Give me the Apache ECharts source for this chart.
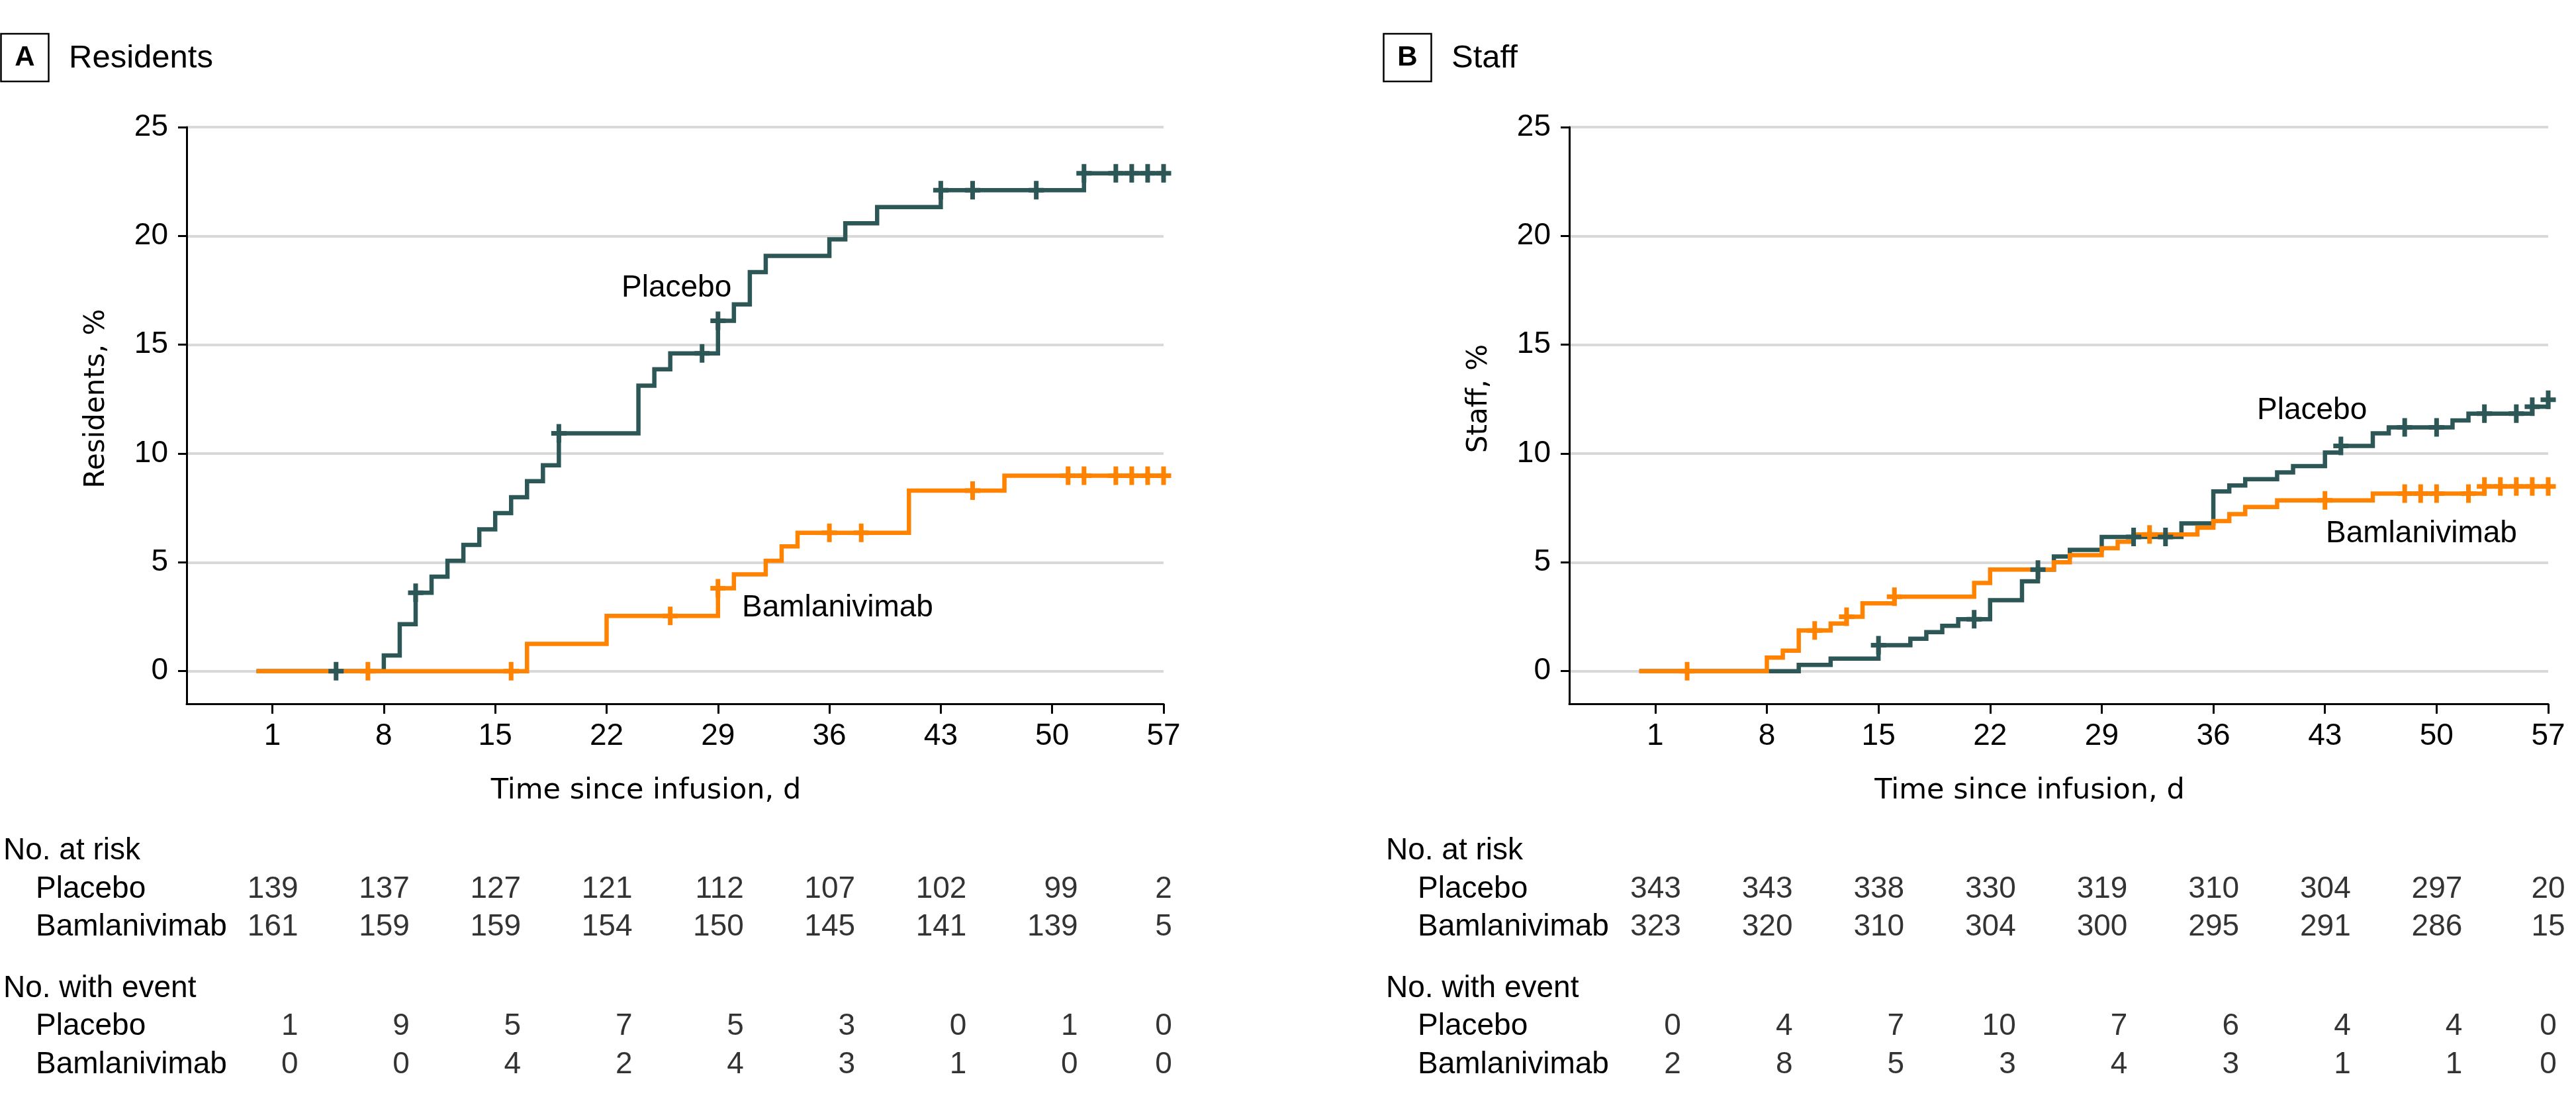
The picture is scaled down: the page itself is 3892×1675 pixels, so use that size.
<!DOCTYPE html>
<html>
<head>
<meta charset="utf-8">
<script src="https://cdn.jsdelivr.net/npm/echarts@6/dist/echarts.min.js"></script>
<style>
html,body{margin:0;padding:0;background:#ffffff;}
#chart{width:3892px;height:1675px;}
</style>
</head>
<body>
<div id="chart"></div>
<script>
// ---------------- data ----------------
const dayTicks = [1, 8, 15, 22, 29, 36, 43, 50, 57];
const pctTicks = [0, 5, 10, 15, 20, 25];
const groups = ['Placebo', 'Bamlanivimab'];

// Panel A – Residents: cumulative incidence step points [day, %]
const resPlaceboSteps = [[0,0],[8,0.72],[9,2.16],[10,3.6],[11,4.34],[12,5.07],[13,5.8],[14,6.52],[15,7.26],[16,7.99],[17,8.73],[18,9.46],[19,10.93],[24,13.12],[25,13.87],[26,14.6],[29,16.1],[30,16.85],[31,18.34],[32,19.08],[36,19.84],[37,20.58],[39,21.33],[43,22.1],[52,22.88],[57,22.88]];
const resPlaceboCensor = [5,10,19,28,29,43,45,49,52,54,55,56,57];
const resBamSteps = [[0,0],[17,1.25],[22,2.54],[29,3.81],[30,4.45],[32,5.07],[33,5.73],[34,6.36],[41,8.3],[47,8.98],[57,8.98]];
const resBamCensor = [7,16,26,29,36,38,45,51,52,54,55,56,57];

// Panel B – Staff
const staffPlaceboSteps = [[0,0],[10,0.29],[12,0.58],[15,1.19],[17,1.49],[18,1.79],[19,2.08],[20,2.39],[22,3.26],[24,4.13],[25,4.67],[26,5.27],[27,5.57],[29,6.17],[34,6.79],[36,8.26],[37,8.53],[38,8.82],[40,9.13],[41,9.42],[43,10.05],[44,10.35],[46,10.93],[47,11.2],[51,11.52],[52,11.83],[56,12.15],[57,12.47]];
const staffPlaceboCensor = [15,21,25,31,33,44,48,50,53,55,56,57];
const staffBamSteps = [[0,0],[8,0.62],[9,0.94],[10,1.87],[12,2.19],[13,2.5],[14,3.12],[16,3.42],[21,4.05],[22,4.67],[26,5.0],[27,5.33],[29,5.65],[30,5.95],[31,6.28],[35,6.59],[36,6.9],[37,7.22],[38,7.54],[40,7.85],[46,8.16],[53,8.49],[57,8.49]];
const staffBamCensor = [3,11,13,16,32,43,48,49,50,52,53,54,55,56,57];

// Risk tables
const resAtRiskPlacebo = [139,137,127,121,112,107,102,99,2];
const resAtRiskBam     = [161,159,159,154,150,145,141,139,5];
const resEventsPlacebo = [1,9,5,7,5,3,0,1,0];
const resEventsBam     = [0,0,4,2,4,3,1,0,0];
const staffAtRiskPlacebo = [343,343,338,330,319,310,304,297,20];
const staffAtRiskBam     = [323,320,310,304,300,295,291,286,15];
const staffEventsPlacebo = [0,4,7,10,7,6,4,4,0];
const staffEventsBam     = [2,8,5,3,4,3,1,1,0];

// ---------------- layout / style ----------------
const W = 3892, H = 1675;
const FONT = 'Liberation Sans';
const TFONT = 'DejaVu Sans';
const C_PLA = '#2c5756';
const C_BAM = '#ff8200';
const X_MIN = -4.39, X_MAX = 57;
const PLOT_TOP = 192, PLOT_BOTTOM = 1063;
const PLUS = 'path://M8,0 L15,0 L15,10.5 L23,10.5 L23,17.5 L15,17.5 L15,28 L8,28 L8,17.5 L0,17.5 L0,10.5 L8,10.5 Z';

const panels = [
  { letter:'A', title:'Residents', yTitle:'Residents, %', left:282, rightEdge:1758, rowLabelX:54,
    steps:[resPlaceboSteps, resBamSteps], censor:[resPlaceboCensor, resBamCensor],
    atRisk:[resAtRiskPlacebo, resAtRiskBam], events:[resEventsPlacebo, resEventsBam],
    lblPla:[939,435], lblBam:[1121,918] },
  { letter:'B', title:'Staff', yTitle:'Staff, %', left:2371, rightEdge:3850, rowLabelX:2142,
    steps:[staffPlaceboSteps, staffBamSteps], censor:[staffPlaceboCensor, staffBamCensor],
    atRisk:[staffAtRiskPlacebo, staffAtRiskBam], events:[staffEventsPlacebo, staffEventsBam],
    lblPla:[3410,620], lblBam:[3514,806] }
];

function stepValue(steps, t) {
  let v = 0;
  for (const s of steps) { if (s[0] <= t) v = s[1]; else break; }
  return v;
}

const grid = [], xAxis = [], yAxis = [], series = [], graphic = [];
const blackLine = {color:'#000', width:3};

panels.forEach((p, pi) => {
  const right = W - p.rightEdge;
  const gBase = grid.length;
  grid.push({left:p.left, right:right, top:PLOT_TOP, bottom:H - PLOT_BOTTOM, outerBoundsMode:'none', containLabel:false});
  grid.push({left:p.left, right:right, top:1343, bottom:H - 1400.5, outerBoundsMode:'none', containLabel:false});
  grid.push({left:p.left, right:right, top:1550, bottom:H - 1608, outerBoundsMode:'none', containLabel:false});

  // plot axes
  xAxis.push({gridIndex:gBase, type:'value', min:X_MIN, max:X_MAX,
    axisLine:{show:true, onZero:false, lineStyle:blackLine},
    axisTick:{show:true, customValues:dayTicks, length:15, lineStyle:blackLine},
    axisLabel:{show:true, customValues:dayTicks, fontSize:46, fontFamily:FONT, color:'#000', margin:26},
    splitLine:{show:false}});
  yAxis.push({gridIndex:gBase, type:'value', min:-1.5, max:25,
    axisLine:{show:true, onZero:false, lineStyle:blackLine},
    axisTick:{show:true, customValues:pctTicks, length:13, lineStyle:blackLine},
    axisLabel:{show:true, customValues:pctTicks, fontSize:46, fontFamily:FONT, color:'#000', margin:28},
    splitLine:{show:true, lineStyle:{color:'#d9d9d9', width:4}}});

  // table axes
  for (let k = 1; k <= 2; k++) {
    xAxis.push({gridIndex:gBase + k, type:'value', min:X_MIN, max:X_MAX, show:false});
    yAxis.push({gridIndex:gBase + k, type:'category', data:groups, inverse:true, boundaryGap:false,
      axisLine:{show:false}, axisTick:{show:false}, splitLine:{show:false},
      axisLabel:{show:true, interval:0, hideOverlap:false, align:'left', margin:p.left - p.rowLabelX,
        fontSize:46, fontFamily:FONT, color:'#000'}});
  }

  const colors = [C_PLA, C_BAM];
  // curves
  [0,1].forEach(g => {
    series.push({type:'line', name:groups[g], xAxisIndex:gBase, yAxisIndex:gBase,
      data:p.steps[g], step:'end', symbol:'none', silent:true, z:2 + g * 0.1,
      lineStyle:{color:colors[g], width:6.5, join:'miter', cap:'butt'}});
  });
  // censor marks
  [0,1].forEach(g => {
    series.push({type:'scatter', xAxisIndex:gBase, yAxisIndex:gBase, silent:true, z:4,
      symbol:PLUS, symbolSize:[23,28],
      itemStyle:{color:colors[g], opacity:1},
      data:p.censor[g].map(d => [d, stepValue(p.steps[g], d)])});
  });
  // tables
  const tables = [p.atRisk, p.events];
  tables.forEach((tbl, ti) => {
    [0,1].forEach(g => {
      series.push({type:'scatter', xAxisIndex:gBase + 1 + ti, yAxisIndex:gBase + 1 + ti, silent:true,
        symbol:'circle', symbolSize:1, itemStyle:{color:'rgba(0,0,0,0)'},
        label:{show:true, position:'inside', align:'right', verticalAlign:'middle', offset:[39,0],
          fontSize:46, fontFamily:FONT, color:'#000', formatter:q => String(q.value[2])},
        data:dayTicks.map((d, j) => {
          const item = {value:[d, groups[g], tbl[g][j]]};
          if (j === dayTicks.length - 1) item.label = {align:'center', offset:[0,0]};
          return item;
        })});
    });
  });

  // graphic texts
  const dx = p.left - 282;
  graphic.push({type:'rect', shape:{x:1.5 + dx, y:51, width:72, height:72},
    style:{fill:'none', stroke:'#000', lineWidth:2.5}, silent:true});
  graphic.push({type:'text', x:37.5 + dx, y:87, silent:true,
    style:{text:p.letter, fontSize:42, fontWeight:'bold', fontFamily:FONT, fill:'#000', align:'center', verticalAlign:'middle'}});
  graphic.push({type:'text', x:104 + dx, y:88, silent:true,
    style:{text:p.title, fontSize:49, fontFamily:FONT, fill:'#000', align:'left', verticalAlign:'middle'}});
  graphic.push({type:'text', x:p.left - 136, y:602, rotation:Math.PI / 2, silent:true,
    style:{text:p.yTitle, fontSize:42, fontFamily:TFONT, fill:'#000', align:'center', verticalAlign:'middle'}});
  graphic.push({type:'text', x:(p.left + p.rightEdge) / 2 - 44, y:1195, silent:true,
    style:{text:'Time since infusion, d', fontSize:43, fontFamily:TFONT, fill:'#000', align:'center', verticalAlign:'middle'}});
  graphic.push({type:'text', x:p.lblPla[0], y:p.lblPla[1], silent:true,
    style:{text:'Placebo', fontSize:46, fontFamily:FONT, fill:'#000', align:'left', verticalAlign:'middle'}});
  graphic.push({type:'text', x:p.lblBam[0], y:p.lblBam[1], silent:true,
    style:{text:'Bamlanivimab', fontSize:46, fontFamily:FONT, fill:'#000', align:'left', verticalAlign:'middle'}});
  graphic.push({type:'text', x:p.left - 277, y:1285.5, silent:true,
    style:{text:'No. at risk', fontSize:46, fontFamily:FONT, fill:'#000', align:'left', verticalAlign:'middle'}});
  graphic.push({type:'text', x:p.left - 277, y:1493, silent:true,
    style:{text:'No. with event', fontSize:46, fontFamily:FONT, fill:'#000', align:'left', verticalAlign:'middle'}});
});

const chart = echarts.init(document.getElementById('chart'), null, {renderer:'canvas', width:W, height:H});
chart.setOption({
  animation:false,
  backgroundColor:'#ffffff',
  tooltip:{show:false},
  legend:{show:false},
  grid, xAxis, yAxis, series, graphic
});
</script>
</body>
</html>
